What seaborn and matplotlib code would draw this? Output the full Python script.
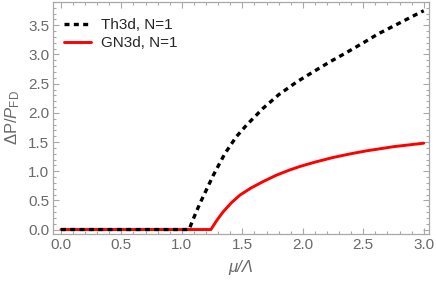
import matplotlib
matplotlib.use("Agg")
import matplotlib.pyplot as plt
import seaborn as sns
import pandas as pd
from matplotlib.ticker import MultipleLocator, FormatStrFormatter

# values
mu_th = [0.0, 0.5, 1.06, 1.09, 1.15, 1.26, 1.355, 1.45, 1.535, 1.67, 1.80, 1.95, 2.10, 2.22, 2.35, 2.50, 2.62, 2.80, 2.96, 3.0]
dp_th = [0.0, 0.0, 0.0, 0.16, 0.45, 0.93, 1.30, 1.59, 1.79, 2.075, 2.31, 2.53, 2.72, 2.87, 3.02, 3.20, 3.35, 3.54, 3.71, 3.75]

mu_gn = [0.0, 0.5, 1.24, 1.29, 1.34, 1.41, 1.48, 1.57, 1.67, 1.78, 1.89, 1.975, 2.10, 2.25, 2.40, 2.53, 2.75, 3.0]
dp_gn = [0.0, 0.0, 0.0, 0.16, 0.30, 0.46, 0.59, 0.71, 0.82, 0.93, 1.02, 1.08, 1.155, 1.235, 1.30, 1.35, 1.42, 1.48]

sns.set_style("ticks")
plt.rcParams['font.family'] = ['Liberation Sans', 'DejaVu Sans']
plt.rcParams['mathtext.fontset'] = 'custom'
plt.rcParams['mathtext.rm'] = 'Liberation Sans'
plt.rcParams['mathtext.it'] = 'Liberation Sans:italic'

grey_txt = '#6a6a6a'
grey_frame = '#a8a8a8'

fig = plt.figure(figsize=(4.36, 2.84), dpi=100)
ax = fig.add_axes([0.1222, 0.177, 0.8608, 0.816])

df_th = pd.DataFrame({'mu': mu_th, 'dp': dp_th})
df_gn = pd.DataFrame({'mu': mu_gn, 'dp': dp_gn})

sns.lineplot(data=df_gn, x='mu', y='dp', ax=ax, color='#ff0000', lw=2.1,
             label='GN3d, N=1', zorder=2)
sns.lineplot(data=df_th, x='mu', y='dp', ax=ax, color='black', lw=2.4,
             linestyle=(0, (1.5, 1.3)), label='Th3d, N=1', zorder=3)

ax.set_xlim(-0.063, 3.04)
ax.set_ylim(-0.072, 3.9)

ax.xaxis.set_major_locator(MultipleLocator(0.5))
ax.xaxis.set_minor_locator(MultipleLocator(0.1))
ax.yaxis.set_major_locator(MultipleLocator(0.5))
ax.yaxis.set_minor_locator(MultipleLocator(0.1))
ax.xaxis.set_major_formatter(FormatStrFormatter('%.1f'))
ax.yaxis.set_major_formatter(FormatStrFormatter('%.1f'))

ax.tick_params(which='both', direction='in', bottom=True, left=True, top=True, right=True,
               color=grey_frame, labelcolor=grey_txt, labelsize=11, width=0.8)
ax.tick_params(which='major', length=4, pad=3)
ax.tick_params(which='minor', length=2.2)
for s in ax.spines.values():
    s.set_visible(True)
    s.set_color(grey_frame)
    s.set_linewidth(0.9)

ax.set_xlabel('μ/Λ', color=grey_txt, fontsize=12, style='italic', labelpad=6)
ax.set_ylabel(r'$\Delta$P/$P_{\rm FD}$', color=grey_txt, fontsize=12, labelpad=4)

h, l = ax.get_legend_handles_labels()
ax.legend(h[::-1], l[::-1], loc='upper left', frameon=False, fontsize=11,
          handlelength=1.8, handletextpad=0.6, labelspacing=0.25,
          borderaxespad=0.3, bbox_to_anchor=(0.0, 0.975))

fig.savefig('out.png', dpi=100)
